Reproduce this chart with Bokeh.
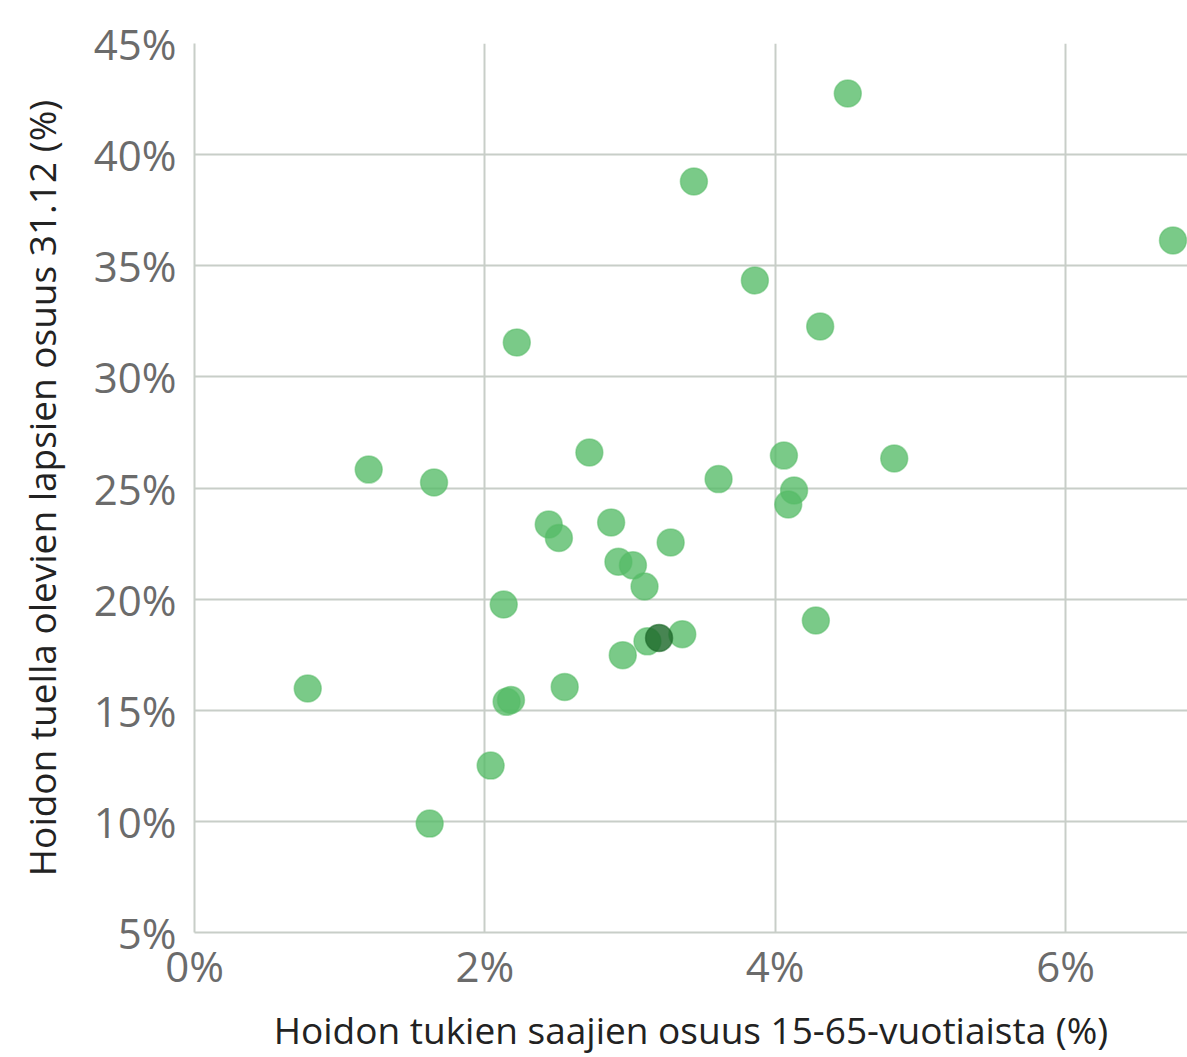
from bokeh.plotting import figure
from bokeh.models import FixedTicker, PrintfTickFormatter, Range1d, ColumnDataSource
from bokeh.embed import file_html
from bokeh.resources import INLINE

# share of care-allowance recipients among 15-65 year olds (%)
x_vals = [4.50, 3.44, 6.74, 3.86, 4.31, 2.22, 1.20, 1.65, 2.72, 4.06, 4.82, 3.61,
          4.13, 4.09, 2.44, 2.87, 2.51, 3.28, 2.92, 3.02, 3.10, 2.13, 4.28, 3.36,
          3.12, 2.95, 0.78, 2.55, 2.15, 2.18, 2.04, 1.62]
# share of children in care 31.12 (%)
y_vals = [42.75, 38.79, 36.14, 34.34, 32.27, 31.55, 25.83, 25.25, 26.60, 26.46, 26.33, 25.40,
          24.89, 24.26, 23.36, 23.45, 22.75, 22.55, 21.68, 21.52, 20.57, 19.76, 19.04, 18.42,
          18.10, 17.48, 15.98, 16.05, 15.38, 15.46, 12.51, 9.90]
# highlighted unit
hx = [3.20]
hy = [18.25]

x_ticks = [0, 2, 4, 6]
y_ticks = [5, 10, 15, 20, 25, 30, 35, 40, 45]
x_title = "Hoidon tukien saajien osuus 15-65-vuotiaista (%)"
y_title = "Hoidon tuella olevien lapsien osuus 31.12 (%)"

FONT = "Open Sans"
GRID = "#c8cec8"

p = figure(width=1187, height=1057, output_backend="svg", toolbar_location=None,
           x_range=Range1d(0, 6.84), y_range=Range1d(5, 45),
           min_border_left=194, min_border_top=43, min_border_right=0, min_border_bottom=125)
p.outline_line_color = None
p.background_fill_color = "white"
p.border_fill_color = "white"

src = ColumnDataSource(dict(x=x_vals, y=y_vals))
p.scatter("x", "y", source=src, size=27, fill_color="#55bb66", fill_alpha=0.78,
          line_color="#55bb66", line_alpha=0.5, line_width=1.5)
p.scatter(hx, hy, size=27, fill_color="#1e6a2c", fill_alpha=0.82,
          line_color="#1e6a2c", line_alpha=0.6, line_width=1.5)

for ax in (p.xaxis, p.yaxis):
    ax.axis_line_color = GRID
    ax.axis_line_width = 2
    ax.major_tick_line_color = None
    ax.minor_tick_line_color = None
    ax.major_tick_out = 0
    ax.major_tick_in = 0
    ax.minor_tick_out = 0
    ax.minor_tick_in = 0
    ax.major_label_text_font = FONT
    ax.major_label_text_font_size = "42px"
    ax.major_label_text_color = "#6b6b6b"
    ax.axis_label_text_font = FONT
    ax.axis_label_text_font_size = "37px"
    ax.axis_label_text_font_style = "normal"
    ax.axis_label_text_color = "#222222"
    ax.formatter = PrintfTickFormatter(format="%d%%")

p.xaxis.ticker = FixedTicker(ticks=x_ticks)
p.yaxis.ticker = FixedTicker(ticks=y_ticks)
p.xaxis.axis_label = x_title
p.yaxis.axis_label = y_title
p.xaxis.major_label_standoff = 4
p.yaxis.major_label_standoff = 18
p.xaxis.axis_label_standoff = 7
p.yaxis.axis_label_standoff = 24

for g in (p.xgrid, p.ygrid):
    g.grid_line_color = GRID
    g.grid_line_width = 2
p.xgrid.ticker = FixedTicker(ticks=x_ticks)
p.ygrid.ticker = FixedTicker(ticks=y_ticks)

open("out.html", "w").write(file_html(p, INLINE))
